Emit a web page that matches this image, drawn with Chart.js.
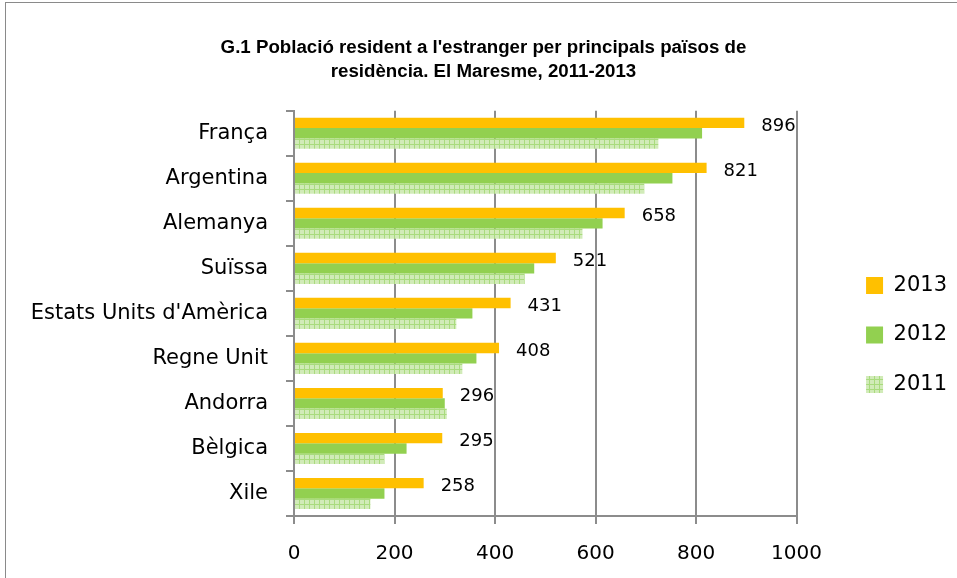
<!DOCTYPE html>
<html>
<head>
<meta charset="utf-8">
<script src="https://cdn.jsdelivr.net/npm/chart.js@4.4.1/dist/chart.umd.min.js"></script>
<style>
  html, body { margin: 0; padding: 0; background: #fff; }
  #wrap { width: 957px; height: 578px; }
</style>
</head>
<body>
<div id="wrap"><canvas id="bar-chart" width="957" height="578"></canvas></div>
<script>
// data
const countries = ["França", "Argentina", "Alemanya", "Suïssa", "Estats Units d'Amèrica", "Regne Unit", "Andorra", "Bèlgica", "Xile"];
const years = ["2013", "2012", "2011"];
const values2013 = [896, 821, 658, 521, 431, 408, 296, 295, 258];
const values2012 = [812, 753, 614, 478, 355, 363, 300, 224, 180];
const values2011 = [725, 697, 574, 459, 323, 335, 304, 180, 152];
const xTicks = [0, 200, 400, 600, 800, 1000];

// light green grid pattern for 2011
function gridPattern() {
    const c = document.createElement('canvas');
    c.width = 5; c.height = 5;
    const g = c.getContext('2d');
    g.fillStyle = '#d1ebb8';
    g.fillRect(0, 0, 5, 5);
    g.fillStyle = '#a9db7e';
    g.fillRect(4, 0, 1, 5);
    g.fillRect(0, 4, 5, 1);
    return g.createPattern(c, 'repeat');
}

// frame around the whole chart
const frame = {
    id: 'frame',
    beforeDraw(chart) {
        const ctx = chart.ctx;
        ctx.save();
        ctx.strokeStyle = '#8a8a8a';
        ctx.lineWidth = 1;
        ctx.strokeRect(5.5, 2.5, chart.width + 10, chart.height + 10);
        ctx.restore();
    }
};

// numbers at the end of the 2013 bars
const endLabels = {
    id: 'endLabels',
    afterDatasetsDraw(chart) {
        const ctx = chart.ctx;
        const meta = chart.getDatasetMeta(0);
        ctx.save();
        ctx.font = '18px "DejaVu Sans"';
        ctx.fillStyle = '#000';
        ctx.textAlign = 'left';
        ctx.textBaseline = 'middle';
        meta.data.forEach((bar, i) => {
            ctx.fillText(values2013[i], bar.x + 17, bar.y + 3);
        });
        ctx.restore();
    }
};

new Chart(document.getElementById("bar-chart"), {
    type: 'bar',
    data: {
        labels: countries,
        datasets: [
            { label: years[0], backgroundColor: '#ffc000', data: values2013 },
            { label: years[1], backgroundColor: '#92d050', data: values2012 },
            { label: years[2], backgroundColor: gridPattern(), data: values2011 }
        ]
    },
    options: {
        indexAxis: 'y',
        responsive: false,
        animation: false,
        categoryPercentage: 0.69,
        barPercentage: 1,
        layout: { padding: { left: 10, right: 0, top: 10, bottom: -6 } },
        scales: {
            x: {
                min: 0,
                max: 1000,
                afterBuildTicks: s => { s.ticks = xTicks.map(v => ({ value: v })); },
                grid: { color: '#8c8c8c', lineWidth: 2, tickLength: 8 },
                border: { color: '#8c8c8c', width: 2 },
                ticks: {
                    color: '#000',
                    padding: 18,
                    font: { family: 'DejaVu Sans', size: 20 },
                    callback: v => String(v)
                }
            },
            y: {
                afterFit: s => { s.width = 284; },
                grid: { drawOnChartArea: false, offset: true, color: '#8c8c8c', lineWidth: 2, tickLength: 8 },
                border: { color: '#8c8c8c', width: 2 },
                ticks: { color: '#000', padding: 18, font: { family: 'DejaVu Sans', size: 21 } }
            },
            gap: {
                axis: 'y',
                type: 'category',
                position: 'right',
                grid: { display: false },
                border: { display: false },
                ticks: { display: false },
                afterFit: s => { s.width = 41; }
            }
        },
        plugins: {
            title: {
                display: true,
                text: ["G.1 Població resident a l'estranger per principals països de", "residència. El Maresme, 2011-2013"],
                color: '#000',
                font: { family: 'Liberation Sans', size: 18.7, weight: 'bold', lineHeight: 1.33 },
                padding: { top: 25, bottom: 26 }
            },
            legend: {
                position: 'right',
                title: {
                    display: true,
                    text: ' ',
                    font: { size: 10 },
                    padding: { top: 32, bottom: 32 }
                },
                labels: {
                    boxWidth: 17,
                    boxHeight: 17,
                    padding: 28.5,
                    color: '#000',
                    font: { family: 'DejaVu Sans', size: 21 }
                }
            },
            tooltip: { enabled: false }
        }
    },
    plugins: [frame, endLabels]
});
</script>
</body>
</html>
